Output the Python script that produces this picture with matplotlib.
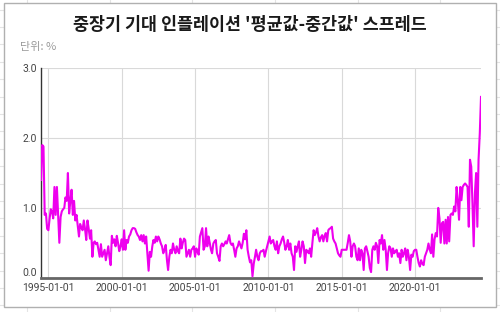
import matplotlib
matplotlib.use("Agg")
import matplotlib.pyplot as plt
from matplotlib.patches import Rectangle
from matplotlib.lines import Line2D
import numpy as np
import pandas as pd

# 월별 '평균값-중간값' 스프레드 (단위: %), 1994-07 부터
spread_1994_1999 = [
    1.40, 1.90, 1.88, 0.90, 0.92, 0.70,
    0.68, 0.85, 0.98, 0.95, 0.85, 1.30, 0.90, 1.30, 0.90, 0.50, 0.87, 0.95,
    0.98, 1.00, 1.15, 1.10, 1.50, 0.92, 1.10, 1.26, 0.90, 1.10, 0.82, 0.90,
    0.75, 0.59, 0.77, 0.72, 0.68, 0.82, 0.70, 0.54, 0.82, 0.70, 0.56, 0.68,
    0.30, 0.50, 0.52, 0.48, 0.50, 0.40, 0.30, 0.48, 0.30, 0.35, 0.40, 0.25,
    0.35, 0.45, 0.30, 0.18, 0.60, 0.50, 0.55, 0.45, 0.60, 0.50, 0.38, 0.45,
]
spread_2000_2004 = [
    0.55, 0.40, 0.68, 0.40, 0.54, 0.50, 0.59, 0.62, 0.68, 0.71, 0.71, 0.70,
    0.65, 0.61, 0.59, 0.54, 0.61, 0.52, 0.61, 0.49, 0.59, 0.35, 0.10, 0.37,
    0.30, 0.45, 0.54, 0.50, 0.59, 0.52, 0.59, 0.55, 0.49, 0.45, 0.35, 0.40,
    0.47, 0.25, 0.11, 0.30, 0.40, 0.35, 0.49, 0.40, 0.35, 0.45, 0.38, 0.35,
    0.56, 0.42, 0.50, 0.56, 0.54, 0.30, 0.35, 0.40, 0.30, 0.40, 0.42, 0.45,
]
spread_2005_2009 = [
    0.30, 0.42, 0.38, 0.33, 0.59, 0.65, 0.71, 0.40, 0.45, 0.71, 0.45, 0.59,
    0.50, 0.40, 0.35, 0.49, 0.52, 0.54, 0.35, 0.30, 0.24, 0.45, 0.49, 0.45,
    0.48, 0.52, 0.49, 0.55, 0.61, 0.50, 0.47, 0.49, 0.40, 0.30, 0.42, 0.45,
    0.52, 0.47, 0.42, 0.50, 0.63, 0.55, 0.68, 0.40, 0.30, 0.22, 0.25, 0.02,
    0.20, 0.30, 0.40, 0.30, 0.25, 0.35, 0.38, 0.38, 0.40, 0.30, 0.38, 0.45,
]
spread_2010_2014 = [
    0.52, 0.59, 0.49, 0.52, 0.54, 0.45, 0.40, 0.52, 0.35, 0.45, 0.49, 0.55,
    0.59, 0.50, 0.40, 0.45, 0.54, 0.40, 0.49, 0.35, 0.30, 0.11, 0.45, 0.37,
    0.45, 0.52, 0.30, 0.40, 0.52, 0.45, 0.21, 0.40, 0.38, 0.35, 0.42, 0.30,
    0.50, 0.68, 0.61, 0.65, 0.71, 0.59, 0.52, 0.58, 0.61, 0.52, 0.60, 0.64,
    0.52, 0.68, 0.70, 0.71, 0.73, 0.56, 0.52, 0.49, 0.42, 0.35, 0.32, 0.30,
]
spread_2015_2019 = [
    0.40, 0.40, 0.40, 0.40, 0.40, 0.50, 0.61, 0.52, 0.30, 0.45, 0.49, 0.45,
    0.30, 0.25, 0.42, 0.25, 0.40, 0.35, 0.11, 0.42, 0.45, 0.38, 0.30, 0.14,
    0.08, 0.40, 0.45, 0.40, 0.50, 0.45, 0.21, 0.54, 0.49, 0.61, 0.40, 0.54,
    0.40, 0.11, 0.35, 0.45, 0.42, 0.30, 0.42, 0.35, 0.38, 0.40, 0.30, 0.35,
    0.21, 0.40, 0.30, 0.35, 0.42, 0.25, 0.40, 0.30, 0.11, 0.33, 0.30, 0.38,
]
spread_2020_2024 = [
    0.40, 0.40, 0.30, 0.21, 0.16, 0.25, 0.20, 0.18, 0.30, 0.35, 0.40, 0.49,
    0.40, 0.35, 0.62, 0.30, 0.55, 0.64, 0.59, 1.00, 0.85, 0.50, 0.78, 0.80,
    0.49, 0.83, 0.49, 0.87, 0.52, 0.90, 0.92, 0.90, 1.02, 0.95, 1.30, 1.11,
    0.83, 1.30, 1.11, 1.30, 1.33, 1.35, 1.33, 1.30, 0.73, 1.69, 1.59, 1.07,
    0.45, 1.21, 1.50, 0.73, 1.69, 2.07, 2.59,
]

title = "중장기 기대 인플레이션 '평균값-중간값' 스프레드"
unit_label = "단위: %"
x_tick_years = [1995, 2000, 2005, 2010, 2015, 2020]
y_ticks = [0.0, 1.0, 2.0, 3.0]

values = (spread_1994_1999 + spread_2000_2004 + spread_2005_2009
          + spread_2010_2014 + spread_2015_2019 + spread_2020_2024)
dates = pd.date_range("1994-07-01", periods=len(values), freq="MS")

W, H = 500, 312
fig = plt.figure(figsize=(W / 100, H / 100), dpi=100)
fig.patch.set_facecolor("white")

def fx(px):
    return px / W

def fy(py):
    return 1 - py / H

# 바깥 스프레드시트 격자
for gx in [27, 110, 192, 275, 358, 440]:
    fig.add_artist(Line2D([fx(gx), fx(gx)], [0, 1], color="#e4e4e4", lw=0.8, zorder=0))
for gy in np.arange(9.5, 312, 17.4):
    fig.add_artist(Line2D([0, 1], [fy(gy), fy(gy)], color="#e4e4e4", lw=0.8, zorder=0))

# 흰 카드
fig.add_artist(Rectangle((fx(4), fy(307)), fx(492), 304 / H, transform=fig.transFigure,
                         facecolor="white", edgecolor="#b0b0b0", lw=1.0, zorder=1))

kr = ["Noto Sans CJK KR", "DejaVu Sans"]
fig.text(0.5, fy(25), title, ha="center", va="center", fontsize=12.5,
         fontweight="bold", color="#1a1a1a", family=kr, zorder=3)
fig.text(fx(20), fy(47), unit_label, ha="left", va="center", fontsize=8,
         color="#9a9a9a", family=kr, zorder=3)

ax = fig.add_axes([fx(41), fy(277.7), fx(481 - 41), (277.7 - 68.3) / H])
ax.set_zorder(2)
ax.patch.set_alpha(0)

ax.plot(dates, values, color="#ee00ee", lw=1.5, zorder=3, solid_joinstyle="round")

ax.set_xlim(dates[0], dates[-1])
ax.set_ylim(0, 3.0)
ax.set_yticks(y_ticks)
ax.set_yticklabels([f"{v:.1f}" for v in y_ticks])
xt = [pd.Timestamp(f"{y}-01-01") for y in x_tick_years]
ax.set_xticks(xt)
ax.set_xticklabels([f"{y}-01-01" for y in x_tick_years])

ax.grid(True, color="#d9d9d9", lw=0.8)
ax.set_axisbelow(True)
for s in ["top", "right"]:
    ax.spines[s].set_visible(False)
ax.spines["left"].set_color("#333333")
ax.spines["left"].set_linewidth(1.0)
ax.spines["bottom"].set_color("#666666")
ax.spines["bottom"].set_linewidth(2.0)
ax.tick_params(length=0, labelsize=7.5, labelcolor="#444444")
ax.tick_params(axis="y", pad=3)
ax.tick_params(axis="x", pad=4)
for lab in ax.get_xticklabels() + ax.get_yticklabels():
    lab.set_family(["Roboto", "DejaVu Sans"])
ax.get_yticklabels()[0].set_va("bottom")

fig.savefig("out.png", dpi=100)
